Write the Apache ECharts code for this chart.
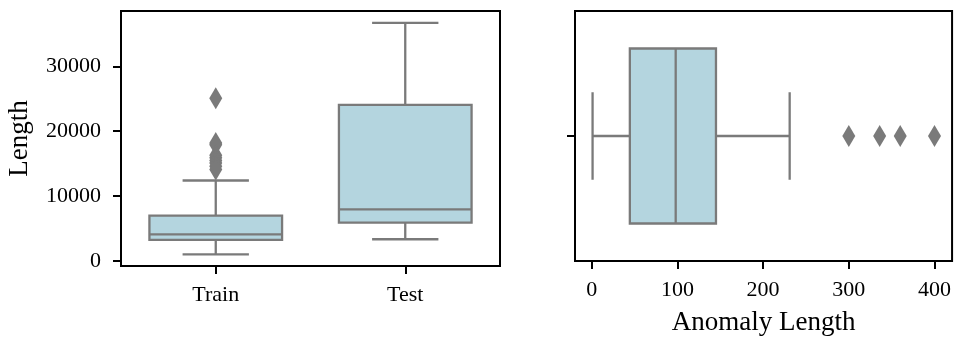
<!DOCTYPE html>
<html>
<head>
<meta charset="utf-8">
<script src="https://cdn.jsdelivr.net/npm/echarts@6/dist/echarts.min.js"></script>
<style>
  html, body { margin: 0; padding: 0; background: #fff; }
  #chart { width: 954px; height: 341px; }
</style>
</head>
<body>
<div id="chart"></div>
<script>
// Left panel: sequence lengths per split (min, Q1, median, Q3, max)
const splits = ['Train', 'Test'];
const trainStats = [1000, 3230, 4100, 6980, 12400];
const testStats = [3340, 5900, 7950, 24060, 36720];
const trainOutliers = [25100, 18200, 17900, 16300, 15900, 15500, 15100, 14600, 14100];
const lengthTicks = [0, 10000, 20000, 30000];

// Right panel: anomaly lengths (min, Q1, median, Q3, max)
const anomalyStats = [1, 44.5, 98, 145, 231];
const anomalyOutliers = [300, 336, 360, 400];
const anomalyTicks = [0, 100, 200, 300, 400];

const FONT = 'Liberation Serif';
const LINE = '#7a7a7a';
const FILL = '#b4d5df';
const LW = 2.3;

// Draws one seaborn-style box: box spans 70% of the band, whisker caps half of that.
function makeBoxRenderer(horizontal) {
  return function (params, api) {
    const pos = api.value(0);
    const v = [1, 2, 3, 4, 5].map(i => api.value(i));
    const style = { stroke: LINE, lineWidth: LW, fill: null };
    const children = [];
    if (!horizontal) {
      const band = api.size([1, 0])[0];
      const half = band * 0.35, cap = half / 2;
      const p = v.map(val => api.coord([pos, val]));
      const x = p[0][0];
      children.push(
        { type: 'line', shape: { x1: x, y1: p[0][1], x2: x, y2: p[1][1] }, style },
        { type: 'line', shape: { x1: x, y1: p[3][1], x2: x, y2: p[4][1] }, style },
        { type: 'line', shape: { x1: x - cap, y1: p[0][1], x2: x + cap, y2: p[0][1] }, style },
        { type: 'line', shape: { x1: x - cap, y1: p[4][1], x2: x + cap, y2: p[4][1] }, style },
        { type: 'rect', shape: { x: x - half, y: p[3][1], width: 2 * half, height: p[1][1] - p[3][1] },
          style: { fill: FILL, stroke: LINE, lineWidth: LW } },
        { type: 'line', shape: { x1: x - half, y1: p[2][1], x2: x + half, y2: p[2][1] }, style }
      );
    } else {
      const band = api.size([0, 1])[1];
      const half = band * 0.35, cap = half / 2;
      const p = v.map(val => api.coord([val, pos]));
      const y = p[0][1];
      children.push(
        { type: 'line', shape: { x1: p[0][0], y1: y, x2: p[1][0], y2: y }, style },
        { type: 'line', shape: { x1: p[3][0], y1: y, x2: p[4][0], y2: y }, style },
        { type: 'line', shape: { x1: p[0][0], y1: y - cap, x2: p[0][0], y2: y + cap }, style },
        { type: 'line', shape: { x1: p[4][0], y1: y - cap, x2: p[4][0], y2: y + cap }, style },
        { type: 'rect', shape: { x: p[1][0], y: y - half, width: p[3][0] - p[1][0], height: 2 * half },
          style: { fill: FILL, stroke: LINE, lineWidth: LW } },
        { type: 'line', shape: { x1: p[2][0], y1: y - half, x2: p[2][0], y2: y + half }, style }
      );
    }
    return { type: 'group', children };
  };
}

const tickStyle = { show: true, inside: false, length: 8, lineStyle: { color: '#000', width: 2 } };
const labelStyle = { color: '#000', fontFamily: FONT, fontSize: 22 };
const nameStyle = { color: '#000', fontFamily: FONT, fontSize: 27 };
const frame = { show: true, borderColor: '#000', borderWidth: 2, backgroundColor: 'transparent' };
const hiddenLine = { show: false, onZero: false };

const chart = echarts.init(document.getElementById('chart'), null, { renderer: 'canvas' });
chart.setOption({
  animation: false,
  backgroundColor: '#fff',
  grid: [
    Object.assign({ left: 121, top: 11, width: 379, height: 255 }, frame),
    Object.assign({ left: 575, top: 11, width: 378, height: 255 }, frame)
  ],
  xAxis: [
    {
      gridIndex: 0, type: 'category', data: splits, boundaryGap: true, position: 'bottom',
      axisLine: hiddenLine,
      axisTick: Object.assign({ alignWithLabel: true }, tickStyle),
      axisLabel: Object.assign({ margin: 18 }, labelStyle),
      splitLine: { show: false }
    },
    {
      gridIndex: 1, type: 'value', min: -19.5, max: 420.5, position: 'bottom',
      name: 'Anomaly Length', nameLocation: 'middle', nameGap: 48, nameTextStyle: nameStyle,
      axisLine: hiddenLine,
      axisTick: Object.assign({ customValues: anomalyTicks }, tickStyle),
      axisLabel: Object.assign({ margin: 18, customValues: anomalyTicks, formatter: v => String(v) }, labelStyle),
      splitLine: { show: false }
    }
  ],
  yAxis: [
    {
      gridIndex: 0, type: 'value', min: -790, max: 38550, position: 'left',
      name: 'Length', nameLocation: 'middle', nameGap: 88, nameTextStyle: nameStyle,
      axisLine: hiddenLine,
      axisTick: Object.assign({ customValues: lengthTicks }, tickStyle),
      axisLabel: Object.assign({ margin: 20, customValues: lengthTicks, formatter: v => String(v) }, labelStyle),
      splitLine: { show: false }
    },
    {
      gridIndex: 1, type: 'value', min: -0.5, max: 0.5, position: 'left',
      axisLine: hiddenLine,
      axisTick: Object.assign({ customValues: [0] }, tickStyle),
      axisLabel: { show: false },
      splitLine: { show: false }
    }
  ],
  series: [
    {
      type: 'custom', xAxisIndex: 0, yAxisIndex: 0,
      renderItem: makeBoxRenderer(false),
      encode: { x: 0, y: [1, 2, 3, 4, 5] },
      data: [[0].concat(trainStats), [1].concat(testStats)]
    },
    {
      type: 'scatter', xAxisIndex: 0, yAxisIndex: 0,
      symbol: 'diamond', symbolSize: [13, 22],
      itemStyle: { color: LINE, opacity: 1 },
      data: trainOutliers.map(v => [splits[0], v])
    },
    {
      type: 'custom', xAxisIndex: 1, yAxisIndex: 1,
      renderItem: makeBoxRenderer(true),
      encode: { x: [1, 2, 3, 4, 5], y: 0 },
      data: [[0].concat(anomalyStats)]
    },
    {
      type: 'scatter', xAxisIndex: 1, yAxisIndex: 1,
      symbol: 'diamond', symbolSize: [13, 22],
      itemStyle: { color: LINE, opacity: 1 },
      data: anomalyOutliers.map(v => [v, 0])
    }
  ]
});
</script>
</body>
</html>
